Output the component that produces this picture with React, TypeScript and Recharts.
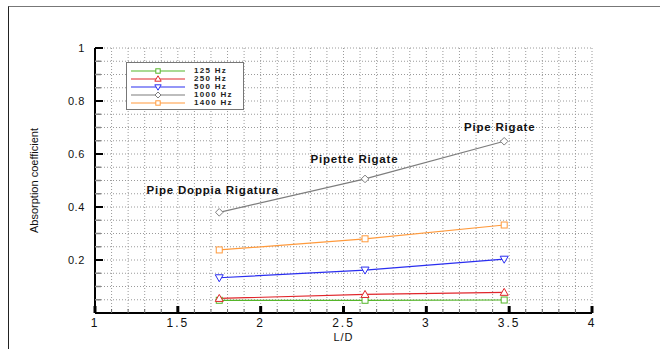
import React from "react";
import {
  CartesianGrid,
  Legend,
  Line,
  LineChart,
  ReferenceDot,
  XAxis,
  YAxis,
} from "recharts";

// L/D of the three pipe types
const ldValues = [1.75, 2.63, 3.47];

// absorption coefficient per frequency band
const hz125 = [0.048, 0.048, 0.049];
const hz250 = [0.055, 0.07, 0.078];
const hz500 = [0.133, 0.162, 0.203];
const hz1000 = [0.38, 0.506, 0.648];
const hz1400 = [0.238, 0.28, 0.332];

const seriesNames = ["125 Hz", "250 Hz", "500 Hz", "1000 Hz", "1400 Hz"];
const seriesKeys = ["hz125", "hz250", "hz500", "hz1000", "hz1400"];
const seriesColors = ["#55b52a", "#e0262b", "#2a2ef0", "#7d7d7d", "#ff9a3c"];
const seriesShapes = ["square", "triangleUp", "triangleDown", "diamond", "square"];

const annotationText = ["Pipe Doppia Rigatura", "Pipette Rigate", "Pipe Rigate"];
const annotationX = [1.71, 2.566, 3.443];
const annotationY = [0.464, 0.581, 0.702];

const xTicks = Array.from({ length: 31 }, (_, i) => Math.round((1 + i * 0.1) * 10) / 10);
const yTicks = Array.from({ length: 21 }, (_, i) => Math.round(i * 5) / 100);

const data = ldValues.map((ld, i) => ({
  ld,
  hz125: hz125[i],
  hz250: hz250[i],
  hz500: hz500[i],
  hz1000: hz1000[i],
  hz1400: hz1400[i],
}));

const isMultiple = (v: number, step: number) =>
  Math.abs(v / step - Math.round(v / step)) < 1e-6;

function Marker({
  cx,
  cy,
  shape,
  color,
  s = 3,
}: {
  cx: number;
  cy: number;
  shape: string;
  color: string;
  s?: number;
}) {
  if (shape === "square")
    return <rect x={cx - s} y={cy - s} width={s * 2} height={s * 2} fill="#fff" stroke={color} strokeWidth={1} />;
  if (shape === "triangleUp")
    return (
      <polygon
        points={`${cx},${cy - s - 1} ${cx - s - 1},${cy + s} ${cx + s + 1},${cy + s}`}
        fill="#fff"
        stroke={color}
        strokeWidth={1}
      />
    );
  if (shape === "triangleDown")
    return (
      <polygon
        points={`${cx},${cy + s + 1} ${cx - s - 1},${cy - s} ${cx + s + 1},${cy - s}`}
        fill="#fff"
        stroke={color}
        strokeWidth={1}
      />
    );
  return (
    <polygon
      points={`${cx},${cy - s - 0.8} ${cx + s + 0.8},${cy} ${cx},${cy + s + 0.8} ${cx - s - 0.8},${cy}`}
      fill="#fff"
      stroke={color}
      strokeWidth={1}
    />
  );
}

const tickFont = { fontFamily: "Liberation Sans, Arial, sans-serif", fill: "#111" };

function BottomTick(props: any) {
  const { x, y, payload } = props;
  const v = payload.value as number;
  const major = isMultiple(v, 0.5);
  return (
    <g>
      <line x1={x} x2={x} y1={y} y2={y - (major ? 7 : 4)} stroke={major ? "#000" : "#666"} strokeWidth={major ? 3 : 1} />
      {major && (
        <text x={x} y={y + 14} textAnchor="middle" fontSize={12} letterSpacing={2} {...tickFont}>
          {String(v)}
        </text>
      )}
    </g>
  );
}

function TopTick(props: any) {
  const { x, y, payload } = props;
  const major = isMultiple(payload.value, 0.5);
  return (
    <line x1={x} x2={x} y1={y} y2={y + (major ? 7 : 4)} stroke={major ? "#000" : "#888"} strokeWidth={major ? 3 : 1} />
  );
}

function LeftTick(props: any) {
  const { x, y, payload } = props;
  const v = payload.value as number;
  const major = isMultiple(v, 0.2);
  return (
    <g>
      <line x1={x} x2={x + (major ? 8 : 6)} y1={y} y2={y} stroke={major ? "#000" : "#888"} strokeWidth={major ? 2 : 1.5} />
      {major && v > 0 && (
        <text x={x - 10} y={y + 4} textAnchor="end" fontSize={11} letterSpacing={0.6} {...tickFont}>
          {String(v)}
        </text>
      )}
    </g>
  );
}

function RightTick(props: any) {
  const { x, y, payload } = props;
  const major = isMultiple(payload.value, 0.2);
  return (
    <line x1={x} x2={x - (major ? 8 : 6)} y1={y} y2={y} stroke={major ? "#000" : "#888"} strokeWidth={major ? 2 : 1.5} />
  );
}

function LegendBox() {
  return (
    <div
      style={{
        width: 118,
        height: 48,
        boxSizing: "border-box",
        border: "1px solid #777",
        background: "#fff",
        paddingTop: 4,
      }}
    >
      {seriesNames.map((name, i) => (
        <div key={name} style={{ display: "flex", alignItems: "center", height: 8 }}>
          <svg width={58} height={8} style={{ marginLeft: 4, flex: "none" }}>
            <line x1={0} x2={54} y1={4} y2={4} stroke={seriesColors[i]} strokeWidth={1.2} />
            <Marker cx={27} cy={4} s={2.2} shape={seriesShapes[i]} color={seriesColors[i]} />
          </svg>
          <span
            style={{
              marginLeft: 5,
              fontFamily: "Liberation Sans, Arial, sans-serif",
              fontWeight: "bold",
              fontSize: 8,
              letterSpacing: 1.3,
              lineHeight: "8px",
              color: "#222",
            }}
          >
            {name}
          </span>
        </div>
      ))}
    </div>
  );
}

export default function App() {
  return (
    <div style={{ position: "absolute", left: 0, top: 0, width: 660, height: 349, background: "#fff", overflow: "hidden" }}>
      <div
        style={{
          position: "absolute",
          left: 8,
          top: 6,
          right: 0,
          bottom: 0,
          borderTop: "1px solid #777",
          borderLeft: "1px solid #222",
        }}
      />
      <div style={{ position: "absolute", left: 0, top: 0 }}>
        <LineChart width={660} height={349} data={data} margin={{ top: 48, right: 68, bottom: 0, left: 0 }}>
          <CartesianGrid stroke="#9a9a9a" strokeDasharray="1 2" strokeWidth={1} />
          <XAxis
            dataKey="ld"
            type="number"
            domain={[1, 4]}
            ticks={xTicks}
            interval={0}
            height={36}
            tickSize={0}
            tickMargin={0}
            tickLine={false}
            tick={BottomTick}
            axisLine={{ stroke: "#000", strokeWidth: 2 }}
            allowDataOverflow
            label={{
              content: ({ viewBox }: any) => (
                <text
                  x={viewBox.x + viewBox.width / 2}
                  y={viewBox.y + 28}
                  textAnchor="middle"
                  fontSize={11}
                  letterSpacing={1}
                  {...tickFont}
                >
                  L/D
                </text>
              ),
            }}
          />
          <XAxis
            xAxisId="top"
            orientation="top"
            type="number"
            dataKey="ld"
            domain={[1, 4]}
            ticks={xTicks}
            interval={0}
            height={0}
            tickSize={0}
            tickMargin={0}
            tickLine={false}
            tick={TopTick}
            axisLine={{ stroke: "#000", strokeWidth: 2 }}
            allowDataOverflow
          />
          <YAxis
            type="number"
            domain={[0, 1]}
            ticks={yTicks}
            interval={0}
            width={95}
            tickSize={0}
            tickMargin={0}
            tickLine={false}
            tick={LeftTick}
            axisLine={{ stroke: "#000", strokeWidth: 2 }}
            allowDataOverflow
            label={{
              content: ({ viewBox }: any) => (
                <text
                  transform={`translate(${viewBox.x + 38},${viewBox.y + viewBox.height / 2}) rotate(-90)`}
                  textAnchor="middle"
                  fontSize={11}
                  {...tickFont}
                >
                  Absorption coefficient
                </text>
              ),
            }}
          />
          <YAxis
            yAxisId="right"
            orientation="right"
            type="number"
            domain={[0, 1]}
            ticks={yTicks}
            interval={0}
            width={0}
            tickSize={0}
            tickMargin={0}
            tickLine={false}
            tick={RightTick}
            axisLine={{ stroke: "#000", strokeWidth: 2 }}
            allowDataOverflow
          />
          <Legend
            layout="vertical"
            align="center"
            verticalAlign="middle"
            content={() => <LegendBox />}
            wrapperStyle={{ left: 126, top: 62, width: 118, height: 48 }}
          />
          {seriesKeys.map((key, i) => (
            <Line
              key={key}
              dataKey={key}
              name={seriesNames[i]}
              stroke={seriesColors[i]}
              strokeWidth={1.2}
              isAnimationActive={false}
              dot={(p: any) => (
                <Marker key={`${key}-${p.index}`} cx={p.cx} cy={p.cy} shape={seriesShapes[i]} color={seriesColors[i]} />
              )}
              activeDot={false}
            />
          ))}
          {annotationText.map((t, i) => (
            <ReferenceDot
              key={t}
              x={annotationX[i]}
              y={annotationY[i]}
              r={0}
              fill="none"
              stroke="none"
              label={{
                value: t,
                position: "center",
                fontSize: 11.5,
                fontWeight: "bold",
                letterSpacing: 0.8,
                fill: "#111",
                fontFamily: "Liberation Sans, Arial, sans-serif",
              }}
            />
          ))}
        </LineChart>
      </div>
    </div>
  );
}
